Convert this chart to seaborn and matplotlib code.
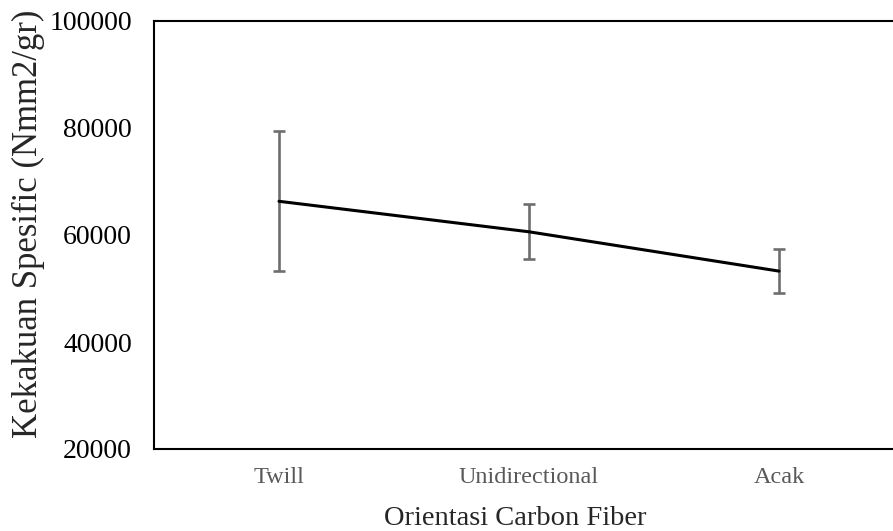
import numpy as np
import pandas as pd
import matplotlib
matplotlib.use("Agg")
import matplotlib.pyplot as plt
import seaborn as sns

# values
categories = ["Twill", "Unidirectional", "Acak"]
stiffness = [66300, 60600, 53250]
stiffness_err = [13050, 5150, 4100]
y_ticks = [20000, 40000, 60000, 80000, 100000]

sns.set_theme(style="white")
plt.rcParams['font.family'] = ['Liberation Serif', 'DejaVu Serif']

df = pd.DataFrame({"pos": np.arange(len(categories)), "val": stiffness})

fig = plt.figure(figsize=(8.93, 5.31), dpi=100)
W, H = 893, 531
# axes box, right edge runs past the figure like the cropped original
ax = fig.add_axes([154 / W, (H - 449) / H, 750 / W, (449 - 21) / H])

ax.errorbar(df["pos"], df["val"], yerr=stiffness_err, fmt="none",
            ecolor="#6e6e6e", elinewidth=1.9, capsize=4.5, capthick=1.9, zorder=2)
sns.lineplot(data=df, x="pos", y="val", color="black", linewidth=2.2, ax=ax, zorder=3)

ax.set_xlim(-0.5, 2.5)
ax.set_ylim(20000, 100000)
ax.set_xticks(df["pos"], categories)
ax.set_yticks(y_ticks)
ax.tick_params(axis="x", labelsize=17.5, colors="#595959", length=0, pad=13)
ax.tick_params(axis="y", labelsize=20, colors="black", length=0, pad=16)
ax.set_xlabel("Orientasi Carbon Fiber", fontsize=20.5, labelpad=13, x=0.482)
ax.set_ylabel("Kekakuan Spesific (Nmm2/gr)", fontsize=25, labelpad=3, y=0.527)

for s in ax.spines.values():
    s.set_color("black")
    s.set_linewidth(1.5)

fig.savefig("out.png", dpi=100)
